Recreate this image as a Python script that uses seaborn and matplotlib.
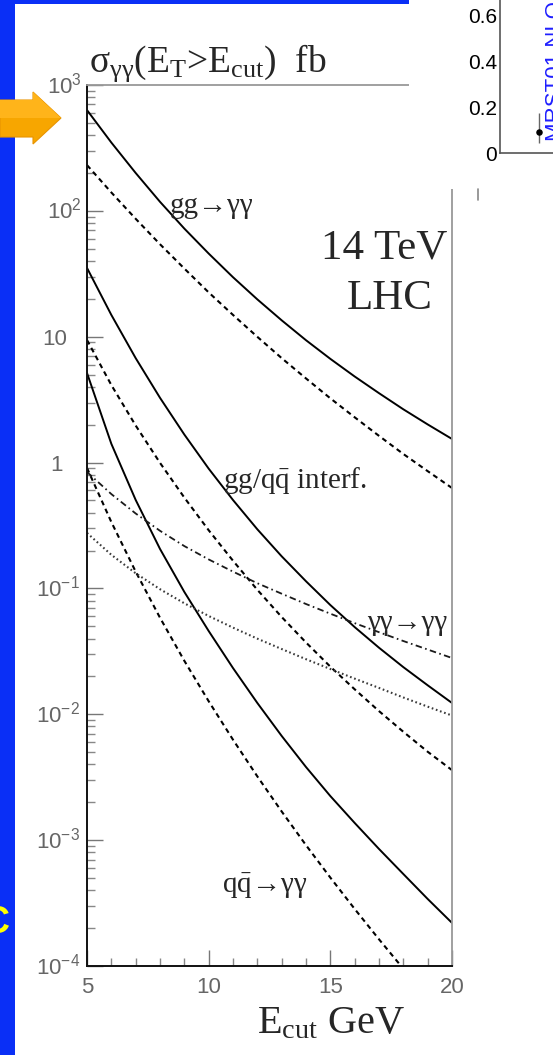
import matplotlib
matplotlib.use("Agg")
import matplotlib.pyplot as plt
import seaborn as sns
import matplotlib.transforms as mtransforms
from matplotlib.patches import Rectangle, Polygon
from matplotlib.lines import Line2D
from matplotlib.ticker import FixedLocator, NullFormatter

# ---------------- data ----------------
e_cut = [5, 6, 7, 8, 9, 10, 11, 12, 13, 14, 15, 16, 17, 18, 19, 20]
e_cut_qq_dashed = [5, 6, 7, 8, 9, 10, 11, 12, 13, 14, 15, 16, 17, 18]

gg_solid = [632, 349, 200, 118, 72.3, 45.8, 29.7, 19.8, 13.5, 9.38, 6.67, 4.83, 3.56, 2.65, 2.01, 1.54]
gg_dashed = [231, 140, 86.5, 54.3, 34.8, 22.5, 14.9, 9.98, 6.76, 4.66, 3.24, 2.29, 1.63, 1.17, 0.855, 0.628]
interf_solid = [35.2, 14.9, 6.76, 3.27, 1.67, 0.895, 0.504, 0.295, 0.180, 0.114, 0.0738, 0.0493,
                0.0338, 0.0237, 0.0170, 0.0123]
interf_dashed = [9.42, 4.13, 1.97, 0.995, 0.527, 0.290, 0.166, 0.0975, 0.0593, 0.0372, 0.0239, 0.0158,
                 0.0106, 0.00726, 0.00504, 0.00360]
qq_solid = [5.15, 1.41, 0.505, 0.206, 0.0938, 0.0459, 0.0233, 0.0123, 0.00673, 0.00381, 0.00224,
            0.00137, 0.000851, 0.000538, 0.000341, 0.000220]
qq_dashed = [0.906, 0.337, 0.136, 0.0585, 0.0266, 0.0127, 0.00628, 0.00321, 0.00169, 0.000912,
             0.000504, 0.000284, 0.000163, 0.0000951]
aa_dashdot = [0.841, 0.562, 0.394, 0.287, 0.217, 0.170, 0.136, 0.110, 0.0908, 0.0752, 0.0630, 0.0530,
              0.0449, 0.0382, 0.0327, 0.0280]
aa_dotted = [0.276, 0.185, 0.132, 0.0986, 0.0762, 0.0604, 0.0488, 0.0399, 0.0330, 0.0274, 0.0229,
             0.0192, 0.0162, 0.0136, 0.0115, 0.00977]

y_exponents = [3, 2, 1, 0, -1, -2, -3, -4]
x_major = [5, 10, 15, 20]

inset_x = [1.0]
inset_y = [0.09]
inset_err_low = [0.045]
inset_err_high = [0.085]
inset_ticks = [0, 0.2, 0.4, 0.6]

# ---------------- style ----------------
sns.set_theme(style="white")
plt.rcParams["font.family"] = ["Liberation Sans", "DejaVu Sans"]
plt.rcParams["mathtext.fontset"] = "custom"
plt.rcParams["mathtext.rm"] = "Liberation Serif"
plt.rcParams["mathtext.it"] = "Liberation Serif:italic"
plt.rcParams["mathtext.bf"] = "Liberation Serif:bold"
plt.rcParams["mathtext.sf"] = "Liberation Sans"
plt.rcParams["mathtext.default"] = "rm"

SERIF = ["Liberation Serif", "DejaVu Serif"]
BLUE = "#0A2FF6"
W, H = 553, 1055


def fx(px):
    return px / W


def fy(py):
    return 1 - py / H


fig = plt.figure(figsize=(W / 100, H / 100), dpi=100)
fig.patch.set_facecolor(BLUE)

# white slide panel and top blue bar
fig.add_artist(Rectangle((fx(15), 0), fx(553) - fx(15), 1, transform=fig.transFigure,
                         facecolor="white", edgecolor="none", zorder=-5))
fig.add_artist(Rectangle((0, fy(4)), fx(409), 4 / H, transform=fig.transFigure,
                         facecolor=BLUE, edgecolor="none", zorder=-4))

# ---------------- main axes ----------------
ax = fig.add_axes([fx(87), fy(966), (452 - 87) / W, (966 - 85) / H])
ax.set_facecolor("white")
ax.set_yscale("log")

curves = [
    (e_cut, gg_solid, "-", 1.4, "black"),
    (e_cut, gg_dashed, (0, (2.4, 1.9)), 1.5, "black"),
    (e_cut, interf_solid, "-", 1.4, "black"),
    (e_cut, interf_dashed, (0, (2.4, 1.9)), 1.5, "black"),
    (e_cut, qq_solid, "-", 1.4, "black"),
    (e_cut_qq_dashed, qq_dashed, (0, (2.4, 1.9)), 1.5, "black"),
    (e_cut, aa_dashdot, (0, (3.6, 1.9, 0.9, 1.9)), 1.3, "#1a1a1a"),
    (e_cut, aa_dotted, (0, (0.8, 1.3)), 1.5, "#3a3a3a"),
]
for xs, ys, ls, lw, col in curves:
    sns.lineplot(x=xs, y=ys, ax=ax, color=col, linewidth=lw, linestyle=ls,
                 errorbar=None, legend=False)

ax.set_xlim(5, 20)
ax.set_ylim(1e-4, 1e3)
ax.set_xlabel("")
ax.set_ylabel("")

ax.yaxis.set_major_locator(FixedLocator([10.0 ** k for k in y_exponents]))
ax.yaxis.set_minor_locator(FixedLocator([m * 10.0 ** k for k in range(-4, 3) for m in range(2, 10)]))
ax.yaxis.set_major_formatter(NullFormatter())
ax.yaxis.set_minor_formatter(NullFormatter())
ax.xaxis.set_major_locator(FixedLocator(x_major))
ax.xaxis.set_minor_locator(FixedLocator(list(range(5, 21))))
ax.set_xticklabels([str(v) for v in x_major])

ax.tick_params(axis="y", which="major", direction="in", length=11.5, width=1.0,
               color="#777777", left=True, right=False, labelleft=False)
ax.tick_params(axis="y", which="minor", direction="in", length=5.8, width=1.0,
               color="#888888", left=True, right=False)
ax.tick_params(axis="x", which="major", direction="in", length=11.5, width=1.0,
               color="#777777", labelsize=16, labelcolor="#666666", pad=8,
               bottom=True, top=False)
ax.tick_params(axis="x", which="minor", direction="in", length=5.8, width=1.0,
               color="#888888", bottom=True, top=False)
for lab in ax.get_xticklabels():
    lab.set_fontfamily(["Liberation Sans", "DejaVu Sans"])

for side in ["left", "bottom"]:
    ax.spines[side].set_color("#111111")
    ax.spines[side].set_linewidth(1.4)
for side in ["top", "right"]:
    ax.spines[side].set_color("#999999")
    ax.spines[side].set_linewidth(1.3)
    ax.spines[side].set_visible(True)

# y tick labels (10^n style)
ytrans = ax.get_yaxis_transform()
for k in y_exponents:
    if k == 1:
        s, right = "10", 67
    elif k == 0:
        s, right = "1", 63
    else:
        s = r"$\mathsf{10^{%d}}$" % k
        right = 82 if k > 0 else 80
    tr = mtransforms.offset_copy(ytrans, fig=fig, x=(right - 87) * 0.72, y=-8 * 0.72, units="points")
    ax.text(0, 10.0 ** k, s, transform=tr, ha="right", va="baseline", fontsize=16,
            color="#666666", clip_on=False, fontfamily=["Liberation Sans", "DejaVu Sans"])

# curve labels
ax.text(8.41, 96, "gg→γγ", fontsize=21, fontfamily=SERIF, va="baseline", ha="left")
ax.text(19.8, 42.2, "14 TeV", fontsize=31, fontfamily=SERIF, va="baseline", ha="right")
ax.text(19.22, 16.6, "LHC", fontsize=31, fontfamily=SERIF, va="baseline", ha="right")
ax.text(10.59, 0.628, r"gg/q$\bar{\mathrm{q}}$ interf.", fontsize=21, fontfamily=SERIF,
        va="baseline", ha="left")
ax.text(19.8, 0.0468, "γγ→γγ", fontsize=21, fontfamily=SERIF, va="baseline", ha="right")
ax.text(10.55, 3.8e-4, r"q$\bar{\mathrm{q}}$→γγ", fontsize=21, fontfamily=SERIF,
        va="baseline", ha="left")

# title and x label
fig.text(fx(89), fy(72), r"σ$_{\mathrm{γγ}}$(E$_{\mathrm{T}}$>E$_{\mathrm{cut}}$)  fb",
         fontsize=27, fontfamily=SERIF, va="baseline", ha="left")
fig.text(fx(257), fy(1033), r"E$_{\mathrm{cut}}$ GeV", fontsize=29, fontfamily=SERIF,
         va="baseline", ha="left")

# white patch hiding the top-right of the plot (pasted image)
fig.add_artist(Rectangle((fx(409), fy(189)), (553 - 409) / W, 189 / H, transform=fig.transFigure,
                         facecolor="white", edgecolor="none", zorder=5))
fig.add_artist(Line2D([fx(478), fx(478)], [fy(189), fy(200)], transform=fig.transFigure,
                      color="#888888", lw=1.2, zorder=6))

# ---------------- inset ----------------
ax2 = fig.add_axes([fx(500), fy(153), 200 / W, 200 / H])
ax2.set_zorder(7)
ax2.set_facecolor("white")
ax2.errorbar(inset_x, inset_y, yerr=[inset_err_low, inset_err_high], fmt="none",
             ecolor="#666666", elinewidth=1.0, capsize=0)
sns.scatterplot(x=inset_x, y=inset_y, ax=ax2, color="black", s=22, edgecolor="black",
                linewidth=0, legend=False, zorder=3)
ax2.set_xlim(0, 5.13)
ax2.set_ylim(0, 0.875)
ax2.set_xlabel("")
ax2.set_ylabel("")
ax2.yaxis.set_major_locator(FixedLocator(inset_ticks))
ax2.yaxis.set_minor_locator(FixedLocator([0.05 * i for i in range(0, 18)]))
ax2.set_yticklabels(["0", "0.2", "0.4", "0.6"])
ax2.set_xticks([])
ax2.tick_params(axis="y", which="major", direction="in", length=8.6, width=1.0,
                color="#666666", labelsize=15, labelcolor="black", pad=2)
ax2.tick_params(axis="y", which="minor", direction="in", length=4.3, width=1.0, color="#777777")
for side in ["top", "right"]:
    ax2.spines[side].set_visible(False)
for side in ["left", "bottom"]:
    ax2.spines[side].set_color("#555555")
    ax2.spines[side].set_linewidth(1.2)

fig.text(fx(545), fy(141), "MRST01 NLO", rotation=90, ha="left", va="bottom",
         color="#1F1FFF", fontsize=16, zorder=8)

# ---------------- slide decorations ----------------
arrow_px = [(0, 100), (33, 100), (33, 92), (61, 118), (33, 144), (33, 137), (0, 137)]
fig.add_artist(Polygon([(fx(a), fy(b)) for a, b in arrow_px], closed=True,
                       transform=fig.transFigure, facecolor="#F7A600", edgecolor="#E89400",
                       lw=0.8, zorder=10))
arrow_top_px = [(0, 100), (33, 100), (33, 92), (61, 118), (0, 118)]
fig.add_artist(Polygon([(fx(a), fy(b)) for a, b in arrow_top_px], closed=True,
                       transform=fig.transFigure, facecolor="#FFB41A", edgecolor="none",
                       zorder=10.5))
fig.text(fx(9), fy(923), "C", ha="right", va="center", color="#FFFF00", fontsize=27,
         fontweight="bold", zorder=10)

fig.savefig("out.png", dpi=100, facecolor=fig.get_facecolor())
